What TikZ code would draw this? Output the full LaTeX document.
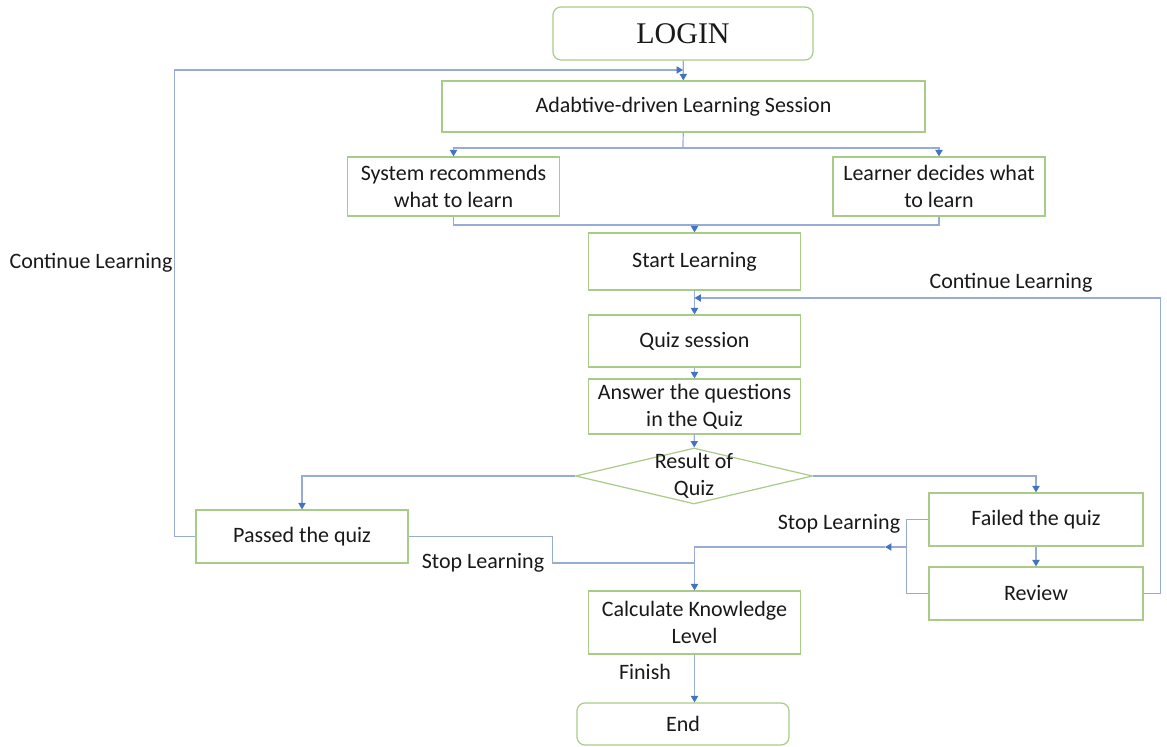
\documentclass[tikz,border=0pt]{standalone}
\usepackage{fontspec}
\setmainfont{Carlito}
\newfontfamily\loginfont{Liberation Serif}
\usepackage{tikz}
\usetikzlibrary{arrows.meta,shapes.geometric}
\definecolor{boxgreen}{RGB}{168,204,136}
\definecolor{wire}{RGB}{150,172,214}
\definecolor{tipblue}{RGB}{68,114,196}
\definecolor{ink}{RGB}{25,25,25}
\tikzset{
  fc/.style={x=0.5pt, y=-0.5pt, font=\fontsize{11}{13.4}\selectfont, text=ink},
  box/.style={draw=boxgreen, line width=0.6pt, fill=white, align=center, inner sep=2pt,
              minimum width=106pt, minimum height=26.5pt},
  term/.style={box, rounded corners=4pt},
  decision/.style={diamond, draw=boxgreen, line width=0.6pt, fill=white, inner sep=0pt,
                   minimum width=118.5pt, minimum height=28pt},
  wire/.style={draw=wire, line width=0.6pt},
  flow/.style={wire, -{Triangle[width=3.6pt, length=3.2pt, color=tipblue]}},
  tag/.style={inner sep=1pt}
}

\begin{document}
\begin{tikzpicture}[fc]
\useasboundingbox (0,0) rectangle (1167,747);
\node[term, minimum width=130pt, font=\loginfont\fontsize{15}{18}\selectfont] (login) at (683,33.5) {LOGIN};
\node[box, minimum width=241.5pt, minimum height=25.5pt] (adapt) at (683.5,106.5) {Adabtive-driven Learning Session};
\node[box, minimum height=29.5pt] (sysrec) at (453.5,186.5) {System recommends\\what to learn};
\node[box, minimum height=29.5pt] (learner) at (939,186.5) {Learner decides what\\to learn};
\node[box, minimum height=28.5pt] (start) at (694.5,261.5) {Start Learning};
\node[box, minimum height=26pt] (quiz) at (694.5,341) {Quiz session};
\node[box, minimum height=27.5pt] (answer) at (694.5,406.5) {Answer the questions\\in the Quiz};
\node[decision] (result) at (694,476) {};
\node[align=center, inner sep=0pt] (resultlbl) at (result) {Result of\\Quiz};
\node[box] (passed) at (302,536.5) {Passed the quiz};
\node[box, minimum width=107pt] (failed) at (1036,519.5) {Failed the quiz};
\node[box, minimum width=107pt] (review) at (1036,593.5) {Review};
\node[box, minimum height=31.5pt] (calc) at (694.5,622.5) {Calculate Knowledge\\Level};
\node[term, minimum height=21pt] (endn) at (683,724) {End};

\coordinate (split) at (683,148);
\coordinate (join) at (694.5,225);
\coordinate (toptie) at (683,70);
\coordinate (quiztie) at (694.5,298);
\coordinate (stoptie) at (694.5,563);
\coordinate (failtie) at (907,547);
\coordinate (failtip) at (885,547);

\draw[flow] (login) -- (adapt);
\draw[wire] (adapt) -- (split);
\draw[flow] (split) -| (sysrec.north);
\draw[flow] (split) -| (learner.north);
\draw[wire] (sysrec.south) |- (join);
\draw[wire] (learner.south) |- (join);
\draw[flow] (join) -- (start);
\draw[flow] (start) -- (quiz);
\draw[flow] (quiz) -- (answer);
\draw[flow] (answer) -- (result);
\draw[flow] (result.west) -| (passed.north);
\draw[flow] (result.east) -| (failed.north);
\draw[flow] (failed) -- (review);
\draw[flow] (passed.west) -- ++(-21,0) |- (toptie);
\draw[flow] (review.east) -- ++(17,0) |- (quiztie);
\draw[wire] (passed.east) -- ++(144,0) |- (stoptie);
\draw[flow] (stoptie) -- (calc);
\draw[wire] (failed.west) -- ++(-22,0) |- (review.west);
\draw[flow] (failtie) -- (failtip);
\draw[wire] (failtip) -| (stoptie);
\draw[flow] (calc.south) -- (calc.south |- endn.north);

\node[tag] (contleft) at (91,263) {Continue Learning};
\node[tag] (contright) at (1011,283) {Continue Learning};
\node[tag] (stopleft) at (483,563) {Stop Learning};
\node[tag] (stopright) at (839,524) {Stop Learning};
\node[tag] (finish) at (645,672) {Finish};
\end{tikzpicture}
\end{document}
